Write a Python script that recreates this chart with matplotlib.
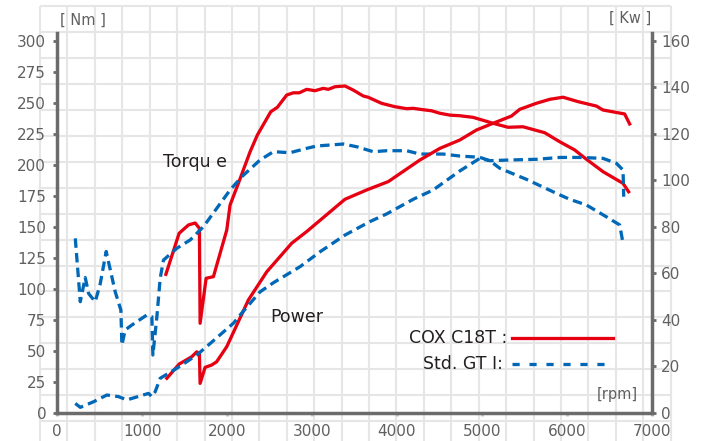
import numpy as np
import matplotlib
matplotlib.use("Agg")
import matplotlib.pyplot as plt
from matplotlib.lines import Line2D

# COX C18T torque [Nm]
cox_tq_rpm = [1279, 1435, 1545, 1624, 1674, 1682, 1753, 1839, 1996, 2035, 2133, 2271, 2357,
              2514, 2592, 2702, 2780, 2851, 2937, 3035, 3133, 3192, 3271, 3388, 3486, 3604,
              3662, 3820, 3976, 4114, 4192, 4271, 4408, 4506, 4624, 4741, 4898, 5133, 5309,
              5486, 5741, 5918, 6094, 6232, 6427, 6662, 6729]
cox_tq = [111.6, 144.7, 151.4, 153.0, 148.7, 72.1, 108.4, 109.7, 147.3, 167.5, 185.0, 210.5, 224.0,
          242.7, 246.3, 256.2, 258.0, 258.0, 260.8, 259.7, 261.6, 260.8, 262.9, 263.5, 260.2, 255.4,
          254.4, 249.5, 246.8, 245.2, 245.5, 244.7, 243.5, 241.5, 240.0, 239.5, 238.2, 233.4, 230.2,
          230.6, 225.8, 218.5, 211.9, 204.4, 194.4, 185.0, 178.2]

# COX C18T power [kW]
cox_pw_rpm = [1290, 1435, 1585, 1643, 1674, 1682, 1741, 1818, 1877, 1996, 2251, 2467, 2761, 2937,
              3388, 3643, 3898, 4271, 4506, 4741, 4937, 5133, 5349, 5447, 5643, 5800, 5957,
              6133, 6349, 6427, 6682, 6741]
cox_pw = [14.8, 20.9, 24.1, 26.2, 25.2, 12.6, 19.5, 20.5, 21.9, 28.4, 48.5, 60.6, 72.9, 77.9,
          91.8, 95.8, 99.4, 108.7, 113.7, 117.3, 121.6, 124.5, 127.6, 130.5, 133.1, 134.8, 135.7,
          133.8, 131.9, 130.2, 128.5, 124.2]

# Std. GTI torque [Nm]
gti_tq_rpm = [212, 271, 329, 370, 447, 506, 576, 682, 749, 761, 800, 878, 1055, 1114, 1126, 1173,
              1212, 1251, 1408, 1565, 1721, 2035, 2173, 2388, 2545, 2741, 2937, 3055, 3369, 3526,
              3721, 3879, 4114, 4271, 4545, 4741, 4976, 5094, 5212, 5526, 5879, 6035, 6232,
              6467, 6624, 6663]
gti_tq = [140.6, 89.5, 109.0, 96.0, 89.5, 104.0, 130.0, 97.6, 82.8, 54.6, 66.7, 70.7, 78.8, 77.4,
          46.5, 77.4, 108.4, 123.1, 132.6, 139.3, 150.0, 179.6, 190.3, 203.8, 210.5, 209.7, 213.2,
          215.1, 216.7, 214.5, 210.5, 211.3, 211.3, 208.6, 208.6, 207.0, 206.0, 203.2, 197.1,
          188.2, 176.9, 172.1, 167.5, 158.0, 151.4, 136.6]

# Std. GTI power [kW]
gti_pw_rpm = [212, 271, 427, 584, 722, 820, 1075, 1114, 1153, 1212, 1408, 1643, 1780, 2075, 2153,
              2388, 2545, 2859, 3094, 3388, 3682, 3879, 4192, 4427, 4741, 4976, 5094, 5329,
              5643, 5918, 6153, 6427, 6584, 6663, 6671]
gti_pw = [4.0, 2.3, 4.7, 7.6, 6.9, 5.5, 8.3, 6.9, 9.0, 14.8, 19.1, 24.8, 29.1, 38.5, 42.0,
          52.0, 55.9, 62.8, 69.2, 76.4, 82.2, 85.5, 91.8, 95.8, 104.0, 109.4, 108.4, 108.7,
          109.0, 109.8, 109.8, 109.4, 107.3, 104.4, 92.9]

x_ticks = [0, 1000, 2000, 3000, 4000, 5000, 6000, 7000]
nm_ticks = [0, 25, 50, 75, 100, 125, 150, 175, 200, 225, 250, 275, 300]
kw_ticks = [0, 20, 40, 60, 80, 100, 120, 140, 160]

RED = "#e60012"
BLUE = "#0068b7"
AX = "#6b6b6b"
TXT = "#606060"
LW = 2.35

fig = plt.figure(figsize=(7.08, 4.41), dpi=100)

# background grid (independent of data axes), in pixel coords
bg = fig.add_axes([0, 0, 1, 1], zorder=0)
bg.set_xlim(0, 708)
bg.set_ylim(441, 0)
bg.axis("off")
for gx in 40 + 27.42 * np.arange(24):
    bg.plot([gx, gx], [6, 441], color="#e6e6e6", lw=1.5, solid_capstyle="butt")
for gy in 6 + 25.95 * np.arange(17):
    bg.plot([40, 671], [gy, gy], color="#e6e6e6", lw=1.5, solid_capstyle="butt")

ax = fig.add_axes([0.0809, 0.0642, 0.8395, 0.8603], zorder=2)
ax.patch.set_alpha(0)
ax.set_xlim(0, 7000)
ax.set_ylim(0, 306)
ax2 = ax.twinx()
ax2.set_ylim(0, 306 * 160 / 300)

ax.plot(cox_tq_rpm, cox_tq, color=RED, lw=LW, solid_joinstyle="round")
ax.plot(gti_tq_rpm, gti_tq, color=BLUE, lw=LW, ls=(0, (2.9, 1.6)))
ax2.plot(cox_pw_rpm, cox_pw, color=RED, lw=LW, solid_joinstyle="round")
ax2.plot(gti_pw_rpm, gti_pw, color=BLUE, lw=LW, ls=(0, (2.9, 1.6)))

for s in ["top", "right"]:
    ax.spines[s].set_visible(False)
for s in ["top", "left", "bottom"]:
    ax2.spines[s].set_visible(False)
for sp in [ax.spines["left"], ax.spines["bottom"], ax2.spines["right"]]:
    sp.set_color(AX)
    sp.set_linewidth(2.5)

ax.set_xticks(x_ticks)
ax.set_yticks(nm_ticks)
ax2.set_yticks(kw_ticks)
ax.tick_params(axis="x", colors="#c8c8c8", length=2.5, width=2.2, pad=6, labelsize=11,
               labelcolor=TXT)
ax.tick_params(axis="y", colors=AX, length=3, width=2, pad=5, labelsize=11, labelcolor=TXT)
ax2.tick_params(axis="y", colors=AX, length=3, width=2, pad=4, labelsize=11, labelcolor=TXT)

ax.text(1622, 202, "Torqu e", fontsize=12.5, color="#231f20", ha="center", va="center")
ax.text(2823, 77, "Power", fontsize=12.5, color="#231f20", ha="center", va="center")

# legend keys
ax.text(0.7578, 0.1956, "COX C18T :", transform=ax.transAxes, fontsize=12.5,
        color="#231f20", ha="right", va="center")
ax.text(0.7494, 0.1284, "Std. GT I:", transform=ax.transAxes, fontsize=12.5,
        color="#231f20", ha="right", va="center")
ax.add_line(Line2D([0.7645, 0.9354], [0.1956, 0.1956], transform=ax.transAxes,
                   color=RED, lw=LW))
ax.add_line(Line2D([0.7645, 0.9264], [0.1284, 0.1284], transform=ax.transAxes,
                   color=BLUE, lw=LW, ls=(0, (2.2, 3.0))))

ax.text(0.9416, 0.0467, "[rpm]", transform=ax.transAxes, fontsize=10.5, color=TXT,
        ha="center", va="center")
fig.text(0.117, 0.9546, "[ Nm ]", fontsize=10.5, color=TXT, ha="center", va="center")
fig.text(0.8898, 0.9585, "[ Kw ]", fontsize=10.5, color=TXT, ha="center", va="center")

fig.savefig("out.png", dpi=100)
